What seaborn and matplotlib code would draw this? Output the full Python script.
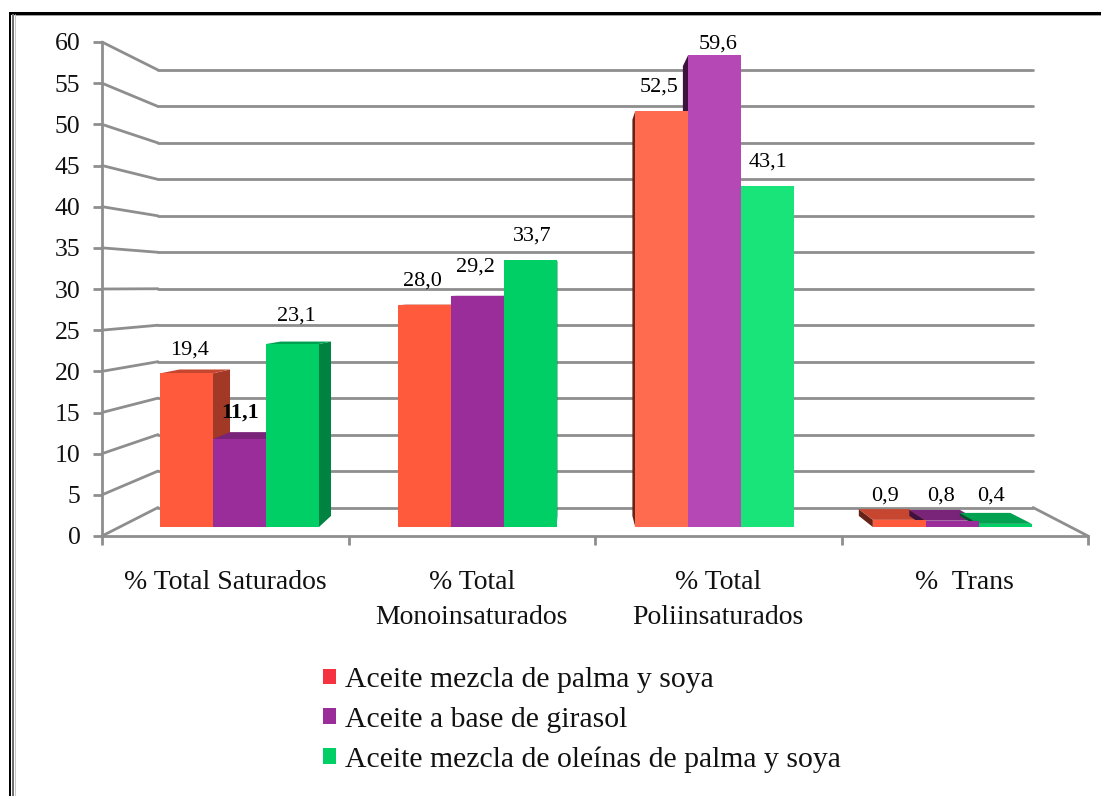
"""Acidos grasos por tipo de aceite, barras con efecto 3D."""
import matplotlib.pyplot as plt
import pandas as pd
import seaborn as sns
from matplotlib.colors import to_rgb
from matplotlib.lines import Line2D
from matplotlib.patches import ConnectionPatch, Polygon
from matplotlib.transforms import IdentityTransform

categorias = [
    "% Total Saturados",
    "% Total\nMonoinsaturados",
    "% Total\nPoliinsaturados",
    "%  Trans",
]
aceites = [
    "Aceite mezcla de palma y soya",
    "Aceite a base de girasol",
    "Aceite mezcla de oleínas de palma y soya",
]
palma_soya = [19.4, 28.0, 52.5, 0.9]
girasol = [11.1, 29.2, 59.6, 0.8]
oleinas = [23.1, 33.7, 43.1, 0.4]
ticks_y = list(range(0, 65, 5))

colores = ["#FF5A3C", "#9B2D9B", "#00CF66"]
colores_claros = ["#FF6B4E", "#B548B5", "#18E47A"]
color_leyenda = "#F53240"
gris = "#8E8E8E"

W, H = 1101, 796
# punto de fuga y profundidad de las barras, en pixeles de la imagen
FUGA = (575, 291)
PROF = 0.047

# desplazamiento de cada etiqueta respecto a la barra (dx, dy en pixeles)
ajuste = [
    [(3, 23), (-2, 24), (-3, 24), (-14, 24)],
    [(1, 26), (-2, 29), (3, 11), (-11, 25)],
    [(4, 28), (2, 24), (0, 24), (-14, 28)],
]

sns.set_theme(style="white")
plt.rcParams["font.family"] = ["Liberation Serif", "DejaVu Serif"]
plt.rcParams["text.color"] = "#111111"
plt.rcParams["xtick.labelcolor"] = "#111111"
plt.rcParams["ytick.labelcolor"] = "#111111"


def px_axes(fig, left, right, top, bottom, zorder):
    ax = fig.add_axes(
        [left / W, 1 - bottom / H, (right - left) / W, (bottom - top) / H]
    )
    ax.set_zorder(zorder)
    ax.patch.set_visible(False)
    return ax


def oscurecer(color, f):
    return tuple(c * f for c in to_rgb(color))


def caras_3d(ax, barra, color):
    """Dibuja lado y tapa de una barra hacia el punto de fuga."""
    (x0, y0), (x1, y1) = ax.transData.transform(
        [(barra.get_x(), 0), (barra.get_x() + barra.get_width(), barra.get_height())]
    )
    vx, vy = FUGA[0], H - FUGA[1]

    def atras(x, y):
        return x + PROF * (vx - x), y + PROF * (vy - y)

    caras = []
    if x1 < vx:
        caras.append(((x1, y0), (x1, y1), atras(x1, y1), atras(x1, y0), 0.63))
    if x0 > vx:
        caras.append(((x0, y0), (x0, y1), atras(x0, y1), atras(x0, y0), 0.4))
    if y1 < vy:
        caras.append(((x0, y1), (x1, y1), atras(x1, y1), atras(x0, y1), 0.78))
    for *puntos, f in caras:
        ax.add_patch(
            Polygon(
                puntos,
                closed=True,
                facecolor=oscurecer(color, f),
                edgecolor="none",
                transform=IdentityTransform(),
                clip_on=False,
                zorder=1,
            )
        )


def linea_marco(xs, ys, color, ancho_px):
    fig.add_artist(
        Line2D(
            [x / W for x in xs],
            [1 - y / H for y in ys],
            transform=fig.transFigure,
            color=color,
            lw=ancho_px * 0.72,
            solid_capstyle="butt",
            zorder=0,
        )
    )


df = pd.DataFrame(
    {
        "categoria": categorias * 3,
        "aceite": [a for a in aceites for _ in categorias],
        "valor": palma_soya + girasol + oleinas,
    }
)

fig = plt.figure(figsize=(W / 100, H / 100), dpi=100)

# pared del fondo
pared = px_axes(fig, 158, 1033, 70, 507.5, 1)
pared.set_xlim(0, 1)
pared.set_ylim(0, 60)
pared.set_xticks([])
pared.set_yticks(ticks_y)
pared.tick_params(left=False, labelleft=False)
pared.grid(axis="y", color=gris, lw=2)
for linea in pared.get_ygridlines():
    linea.set_clip_on(False)
sns.despine(ax=pared, left=True, bottom=True)

# ejes delanteros
frente = px_axes(fig, 102, 1088, 42, 536, 2)
frente.set_xlim(0, 4)
frente.set_ylim(0, 60)
frente.set_yticks(ticks_y)
frente.set_xticks(range(5))
frente.set_xticklabels([])
frente.set_xticks([i + 0.5 for i in range(4)], labels=categorias, minor=True)
frente.tick_params(axis="x", which="major", length=6.5, width=2, color=gris, bottom=True)
frente.tick_params(axis="x", which="minor", length=0, labelsize=20, pad=24.5)
frente.tick_params(axis="y", length=6.5, width=2, color=gris, left=True, labelsize=18.5, pad=9)
for t in frente.get_xticklabels(minor=True):
    t.set_linespacing(1.52)
sns.despine(ax=frente, right=True, top=True)
for lado in ["left", "bottom"]:
    frente.spines[lado].set_color(gris)
    frente.spines[lado].set_linewidth(2)

# lineas que unen el frente con la pared
for v in ticks_y:
    fig.add_artist(
        ConnectionPatch(
            (0, v), (0, v), "data", "data", axesA=frente, axesB=pared,
            color=gris, lw=2, zorder=1.5,
        )
    )
fig.add_artist(
    ConnectionPatch(
        (4, 0), (1, 0), "data", "data", axesA=frente, axesB=pared,
        color=gris, lw=2, zorder=1.5,
    )
)

# barras
barras = px_axes(fig, 120.7, 1071.1, 51.8, 527, 3)
sns.barplot(
    data=df, x="categoria", y="valor", hue="aceite", order=categorias,
    hue_order=aceites, palette=colores, width=0.669, linewidth=0, saturation=1,
    ax=barras,
)
barras.set_xlim(-0.5, 3.5)
barras.set_ylim(0, 60)
barras.axis("off")

handles, labels = barras.get_legend_handles_labels()
barras.get_legend().remove()

for s, (contenedor, color, claro) in enumerate(
    zip(barras.containers, colores, colores_claros)
):
    for c, barra in enumerate(contenedor):
        barra.set_zorder(2)
        # el grupo de poliinsaturados es algo mas claro en el original
        barra.set_facecolor(claro if c == 2 else color)
        caras_3d(barras, barra, color)
        dx, dy = ajuste[s][c]
        barras.annotate(
            f"{barra.get_height():.1f}".replace(".", ","),
            (barra.get_x() + barra.get_width() / 2, barra.get_height()),
            xytext=(dx, dy),
            textcoords="offset pixels",
            ha="center",
            va="center",
            fontsize=16,
            # el 11,1 sale mas oscuro en el original
            fontweight="bold" if (s, c) == (1, 0) else "normal",
            color="black",
            annotation_clip=False,
            zorder=5,
        )

handles[0].set_facecolor(color_leyenda)
fig.legend(
    handles,
    labels,
    loc="upper left",
    bbox_to_anchor=(323 / W, 1 - 667 / H),
    frameon=False,
    fontsize=21.4,
    handlelength=0.437,
    handleheight=0.437,
    handletextpad=0.29,
    labelspacing=0.46,
    borderpad=0,
    borderaxespad=0,
)

# marco de la imagen: solo arriba y a la izquierda
linea_marco([9, W], [12.5, 12.5], "black", 3)
linea_marco([14, W], [14.5, 14.5], "#A0A0A0", 1)
linea_marco([10, 10], [12, H], "black", 2)
linea_marco([13, 13], [14, H], "#707070", 2)
linea_marco([14.5, 14.5], [14, H], "#C8C8C8", 1)

fig.savefig("out.png", dpi=100)
